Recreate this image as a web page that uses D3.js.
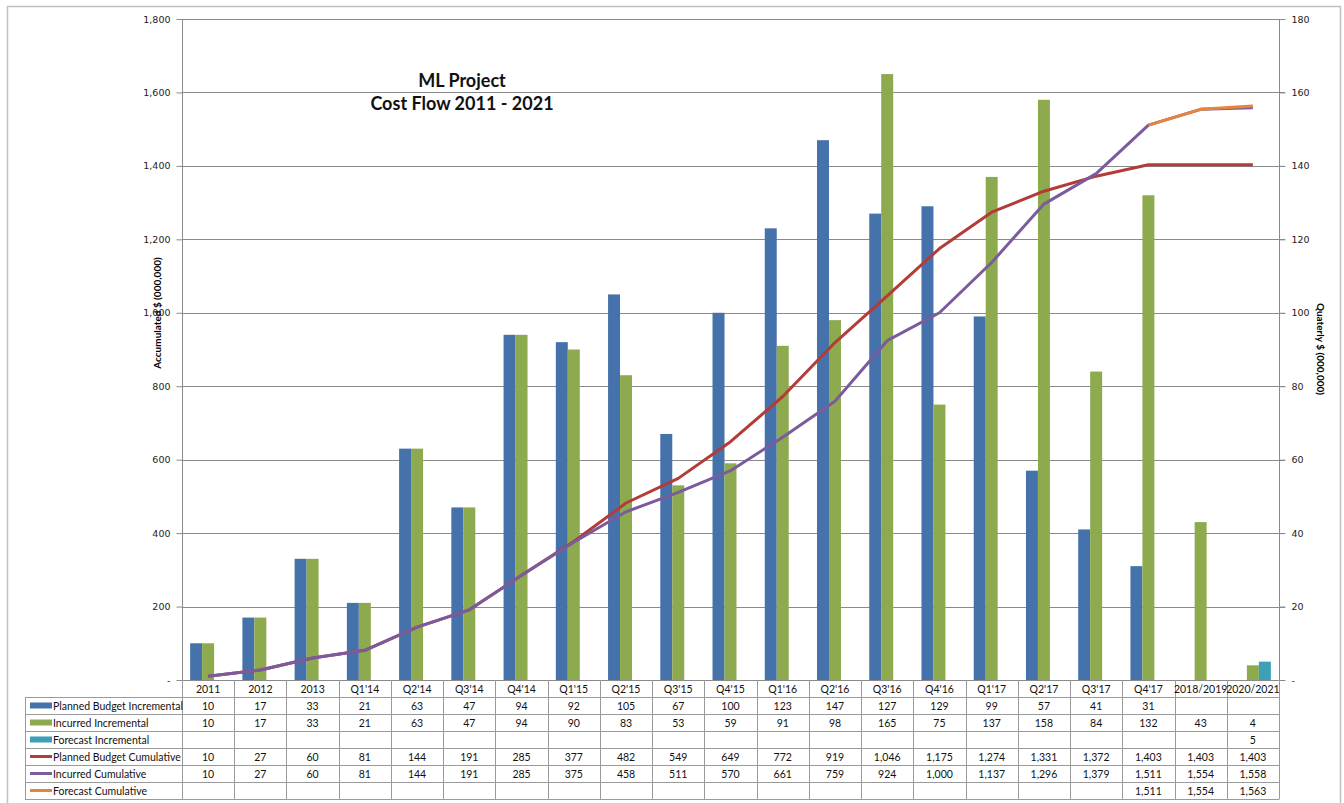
<!DOCTYPE html>
<html><head><meta charset="utf-8">
<script src="https://cdn.jsdelivr.net/npm/d3@7"></script>
<style>
html,body{margin:0;padding:0;background:#fff;}
svg{display:block;}
</style></head>
<body>
<svg id="chart" width="1344" height="803"></svg>
<script>
// ---- data ----
const categories = ["2011","2012","2013","Q1'14","Q2'14","Q3'14","Q4'14","Q1'15","Q2'15","Q3'15","Q4'15","Q1'16","Q2'16","Q3'16","Q4'16","Q1'17","Q2'17","Q3'17","Q4'17","2018/2019","2020/2021"];
const plannedIncremental = [10,17,33,21,63,47,94,92,105,67,100,123,147,127,129,99,57,41,31,null,null];
const incurredIncremental = [10,17,33,21,63,47,94,90,83,53,59,91,98,165,75,137,158,84,132,43,4];
const forecastIncremental = [null,null,null,null,null,null,null,null,null,null,null,null,null,null,null,null,null,null,null,null,5];
const plannedCumulative = [10,27,60,81,144,191,285,377,482,549,649,772,919,1046,1175,1274,1331,1372,1403,1403,1403];
const incurredCumulative = [10,27,60,81,144,191,285,375,458,511,570,661,759,924,1000,1137,1296,1379,1511,1554,1558];
const forecastCumulative = [null,null,null,null,null,null,null,null,null,null,null,null,null,null,null,null,null,null,1511,1554,1563];
const leftTicks = [0,200,400,600,800,1000,1200,1400,1600,1800];
const rightTicks = [0,20,40,60,80,100,120,140,160,180];
const seriesNames = ["Planned Budget Incremental","Incurred Incremental","Forecast Incremental","Planned Budget Cumulative","Incurred Cumulative","Forecast Cumulative"];
const titleLines = ["ML Project","Cost Flow 2011 - 2021"];

// ---- styles ----
const C = {blue:"#4672AB", green:"#8DAA4F", teal:"#3E9FB9", red:"#B33B38", purple:"#7A5C9E", orange:"#E8833A", grid:"#8a8a8a", border:"#c0c0c0"};
const bodyFont = "Lato, 'Open Sans', sans-serif";
const axisFont = "'DejaVu Sans', Verdana, sans-serif";

const svg = d3.select("#chart");
const L = 182, R = 1279, T = 19, B = 680;
const rowH = 17, legendL = 25;

const x = d3.scaleBand().domain(categories).range([L, R]).padding(0);
const xs = d3.scaleBand().domain([0,1,2]).range([0, x.bandwidth()]).paddingInner(0).paddingOuter(0.68);
const yL = d3.scaleLinear().domain([0,1800]).range([B, T]);
const yR = d3.scaleLinear().domain([0,180]).range([B, T]);
const cx = c => x(c) + x.bandwidth()/2;

// outer border
svg.append("path").attr("d", `M7.5,803 V6.5 H1340.5 V803`).attr("fill","none").attr("stroke",C.border).attr("stroke-width",1.5);

// gridlines
svg.append("g").selectAll("line").data(leftTicks.slice(1)).join("line")
  .attr("x1", L).attr("x2", R + 6).attr("y1", d => Math.round(yL(d))+0.5).attr("y2", d => Math.round(yL(d))+0.5)
  .attr("stroke", C.grid).attr("stroke-width", 1);

// left axis
const axL = svg.append("g").attr("transform", `translate(${L+0.5},0)`)
  .call(d3.axisLeft(yL).tickValues(leftTicks).tickSize(6).tickPadding(6)
    .tickFormat(d => d === 0 ? "-" : d3.format(",")(d)));
// right axis
const axR = svg.append("g").attr("transform", `translate(${R+0.5},0)`)
  .call(d3.axisRight(yR).tickValues(rightTicks).tickSize(6).tickPadding(6)
    .tickFormat(d => d === 0 ? "-" : d3.format(",")(d)));
[axL, axR].forEach(a => {
  a.select(".domain").attr("stroke", C.grid).attr("d", `M0,${T}V${B}`);
  a.selectAll(".tick line").attr("stroke", C.grid);
  a.selectAll(".tick text").attr("font-family", axisFont).attr("font-size", 9.5).attr("fill", "#222");
});

// axis titles
svg.append("text").attr("transform", `translate(161,313) rotate(-90)`).attr("text-anchor","middle")
  .attr("font-family", bodyFont).attr("font-weight","bold").attr("font-size",10).text("Accumulated $ (000,000)");
svg.append("text").attr("transform", `translate(1317,349) rotate(90)`).attr("text-anchor","middle")
  .attr("font-family", bodyFont).attr("font-weight","bold").attr("font-size",10).text("Quaterly $ (000,000)");

// bars
const barSeries = [
  {vals: plannedIncremental, color: C.blue, k: 0},
  {vals: incurredIncremental, color: C.green, k: 1},
  {vals: forecastIncremental, color: C.teal, k: 2}
];
barSeries.forEach(s => {
  svg.append("g").selectAll("rect")
    .data(categories.map((c,i) => ({c, v: s.vals[i]})).filter(d => d.v != null))
    .join("rect")
    .attr("x", d => x(d.c) + xs(s.k)).attr("width", xs.bandwidth())
    .attr("y", d => yR(d.v)).attr("height", d => B - yR(d.v))
    .attr("fill", s.color);
});

// lines
const lineSeries = [
  {vals: plannedCumulative, color: C.red},
  {vals: incurredCumulative, color: C.purple},
  {vals: forecastCumulative, color: C.orange}
];
const lineGen = d3.line().defined(d => d.v != null).x(d => cx(d.c)).y(d => yL(d.v));
lineSeries.forEach(s => {
  svg.append("path").datum(categories.map((c,i) => ({c, v: s.vals[i]})))
    .attr("d", lineGen).attr("fill","none").attr("stroke", s.color).attr("stroke-width", 3)
    .attr("stroke-linejoin","round");
});

// x axis baseline
svg.append("line").attr("x1", L-4).attr("x2", R).attr("y1", B+0.5).attr("y2", B+0.5).attr("stroke", C.grid);

// title
svg.append("g").selectAll("text").data(titleLines).join("text")
  .attr("x", 462).attr("y", (d,i) => 87 + i*23).attr("text-anchor","middle")
  .attr("font-family", bodyFont).attr("font-weight","bold").attr("font-size", 18).attr("fill","#111")
  .text(d => d);

// ---- data table ----
const tbl = svg.append("g");
const tableRows = [
  {name: seriesNames[0], vals: plannedIncremental, color: C.blue, type: "bar"},
  {name: seriesNames[1], vals: incurredIncremental, color: C.green, type: "bar"},
  {name: seriesNames[2], vals: forecastIncremental, color: C.teal, type: "bar"},
  {name: seriesNames[3], vals: plannedCumulative, color: C.red, type: "line"},
  {name: seriesNames[4], vals: incurredCumulative, color: C.purple, type: "line"},
  {name: seriesNames[5], vals: forecastCumulative, color: C.orange, type: "line"}
];
const tableBottom = B + rowH * (tableRows.length + 1);
const tcol = "#9a9a9a";
const tFont = 10.5;
categories.forEach((c,i) => {
  tbl.append("line").attr("x1", Math.round(x(c))+0.5).attr("x2", Math.round(x(c))+0.5)
    .attr("y1", B).attr("y2", tableBottom).attr("stroke", tcol);
});
tbl.append("line").attr("x1", R+0.5).attr("x2", R+0.5).attr("y1", B).attr("y2", tableBottom).attr("stroke", tcol);
tbl.append("line").attr("x1", legendL+0.5).attr("x2", legendL+0.5).attr("y1", B+rowH).attr("y2", tableBottom).attr("stroke", tcol);
for (let r = 1; r <= tableRows.length + 1; r++) {
  tbl.append("line").attr("x1", legendL).attr("x2", R+0.5).attr("y1", Math.round(B + r*rowH)+0.5).attr("y2", Math.round(B + r*rowH)+0.5).attr("stroke", tcol);
}
tbl.append("g").selectAll("text").data(categories).join("text")
  .attr("x", d => cx(d)).attr("y", B + rowH/2 + 4).attr("text-anchor","middle")
  .attr("font-family", bodyFont).attr("font-size", tFont).attr("fill","#111").text(d => d);
tableRows.forEach((row, r) => {
  const yc = B + rowH*(r+1) + rowH/2;
  if (row.type === "bar") {
    tbl.append("rect").attr("x", 30).attr("y", yc - 3).attr("width", 22).attr("height", 6).attr("fill", row.color);
  } else {
    tbl.append("line").attr("x1", 30).attr("x2", 52).attr("y1", yc).attr("y2", yc).attr("stroke", row.color).attr("stroke-width", 3);
  }
  tbl.append("text").attr("x", 53).attr("y", yc + 4).attr("font-family", bodyFont).attr("font-size", tFont).attr("fill","#111").text(row.name);
  tbl.append("g").selectAll("text").data(categories.map((c,i) => ({c, v: row.vals[i]})).filter(d => d.v != null)).join("text")
    .attr("x", d => cx(d.c)).attr("y", yc + 4).attr("text-anchor","middle")
    .attr("font-family", bodyFont).attr("font-size", tFont).attr("fill","#111").text(d => d3.format(",")(d.v));
});
</script>
</body></html>
